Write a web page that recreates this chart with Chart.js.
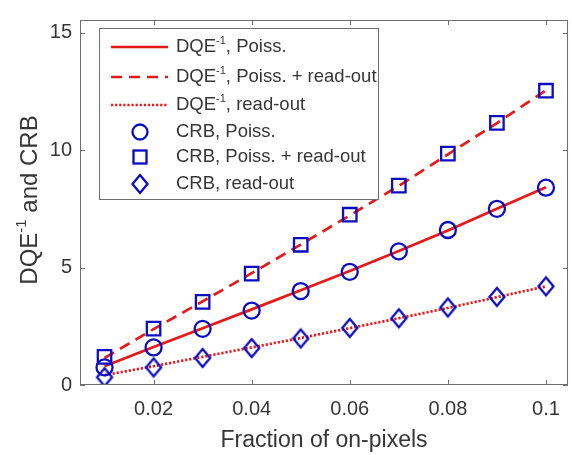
<!DOCTYPE html>
<html>
<head>
<meta charset="utf-8">
<script src="https://cdn.jsdelivr.net/npm/chart.js@4/dist/chart.umd.min.js"></script>
<style>
html, body { margin: 0; padding: 0; background: #fff; }
</style>
</head>
<body>
<canvas id="dqeChart" width="572" height="455"></canvas>
<script>
// values
const fraction = [0.01, 0.02, 0.03, 0.04, 0.05, 0.06, 0.07, 0.08, 0.09, 0.1];
const dqePoiss = [0.8, 1.62, 2.42, 3.22, 4.03, 4.85, 5.7, 6.58, 7.5, 8.42];
const dqeMixed = [1.15, 2.38, 3.56, 4.76, 5.98, 7.22, 8.48, 9.82, 11.15, 12.55];
const dqeRead = [0.42, 0.8, 1.2, 1.6, 2.0, 2.42, 2.84, 3.28, 3.74, 4.2];
const crbPoiss = [0.75, 1.6, 2.39, 3.17, 4.0, 4.82, 5.69, 6.6, 7.5, 8.4];
const crbMixed = [1.2, 2.4, 3.54, 4.74, 5.97, 7.25, 8.49, 9.85, 11.16, 12.53];
const crbRead = [0.33, 0.75, 1.15, 1.57, 1.98, 2.43, 2.84, 3.3, 3.75, 4.2];
const xTicks = [0.02, 0.04, 0.06, 0.08, 0.1];
const yTicks = [0, 5, 10, 15];

const lineRed = 'rgb(230,25,25)';
const markerBlue = 'rgb(12,12,192)';
const textColor = '#363636';
const axisColor = '#6e6e6e';
const fontFamily = '"Liberation Sans", Arial, sans-serif';

function pairs(values) {
    return fraction.map(function (f, i) { return { x: f, y: values[i] }; });
}

function diamondImage() {
    const c = document.createElement('canvas');
    c.width = 20;
    c.height = 24;
    const g = c.getContext('2d');
    g.strokeStyle = markerBlue;
    g.lineWidth = 2.3;
    g.beginPath();
    g.moveTo(10, 3);
    g.lineTo(17.5, 12);
    g.lineTo(10, 21);
    g.lineTo(2.5, 12);
    g.closePath();
    g.stroke();
    return c;
}
const diamond = diamondImage();

// text with a "-1" superscript after the first part
function drawSup(ctx, base, rest, x, y, size, align) {
    const sup = '-1';
    const supSize = Math.round(size * 0.62);
    ctx.font = size + 'px ' + fontFamily;
    const wBase = ctx.measureText(base).width;
    const wRest = ctx.measureText(rest).width;
    ctx.font = supSize + 'px ' + fontFamily;
    const wSup = ctx.measureText(sup).width;
    const total = wBase + wSup + wRest;
    const start = align === 'center' ? x - total / 2 : x;
    ctx.textAlign = 'left';
    ctx.textBaseline = 'middle';
    ctx.font = size + 'px ' + fontFamily;
    ctx.fillText(base, start, y);
    ctx.font = supSize + 'px ' + fontFamily;
    ctx.fillText(sup, start + wBase, y - size * 0.33);
    ctx.font = size + 'px ' + fontFamily;
    ctx.fillText(rest, start + wBase + wSup, y);
}

const legendRows = [
    { kind: 'line', dash: [], text: ', Poiss.' },
    { kind: 'line', dash: [11, 7], text: ', Poiss. + read-out' },
    { kind: 'line', dash: [2.2, 1.9], text: ', read-out' },
    { kind: 'circle', text: 'CRB, Poiss.' },
    { kind: 'square', text: 'CRB, Poiss. + read-out' },
    { kind: 'diamond', text: 'CRB, read-out' }
];
const legendY = [47, 77, 105, 132, 157, 184];
const legendFont = 18.5;

const frame = {
    id: 'frame',
    afterDraw(chart) {
        const ctx = chart.ctx;
        const a = chart.chartArea;
        const xs = chart.scales.x;
        const ys = chart.scales.y;
        ctx.save();

        // box with inward ticks, like matlab
        ctx.strokeStyle = axisColor;
        ctx.lineWidth = 1;
        ctx.strokeRect(a.left + 0.5, a.top + 0.5, a.right - a.left - 1, a.bottom - a.top - 1);
        ctx.beginPath();
        xTicks.forEach(function (v) {
            const px = Math.round(xs.getPixelForValue(v)) + 0.5;
            ctx.moveTo(px, a.bottom);
            ctx.lineTo(px, a.bottom - 5);
            ctx.moveTo(px, a.top);
            ctx.lineTo(px, a.top + 5);
        });
        yTicks.forEach(function (v) {
            const py = Math.round(ys.getPixelForValue(v)) + 0.5;
            ctx.moveTo(a.left, py);
            ctx.lineTo(a.left + 5, py);
            ctx.moveTo(a.right, py);
            ctx.lineTo(a.right - 5, py);
        });
        ctx.stroke();

        // legend
        ctx.fillStyle = '#ffffff';
        ctx.fillRect(99, 28, 279, 171);
        ctx.strokeRect(99.5, 28.5, 279, 171);
        legendRows.forEach(function (row, i) {
            const y = legendY[i];
            if (row.kind === 'line') {
                ctx.strokeStyle = lineRed;
                ctx.lineWidth = 2.7;
                ctx.setLineDash(row.dash);
                ctx.beginPath();
                ctx.moveTo(111, y);
                ctx.lineTo(168, y);
                ctx.stroke();
                ctx.setLineDash([]);
                ctx.fillStyle = textColor;
                drawSup(ctx, 'DQE', row.text, 176, y, legendFont, 'left');
            } else {
                ctx.strokeStyle = markerBlue;
                ctx.lineWidth = 2.3;
                if (row.kind === 'circle') {
                    ctx.beginPath();
                    ctx.arc(140, y, 7.5, 0, Math.PI * 2);
                    ctx.stroke();
                } else if (row.kind === 'square') {
                    ctx.strokeRect(133.5, y - 6.5, 13, 13);
                } else {
                    ctx.drawImage(diamond, 130, y - 12);
                }
                ctx.fillStyle = textColor;
                ctx.font = legendFont + 'px ' + fontFamily;
                ctx.textAlign = 'left';
                ctx.textBaseline = 'middle';
                ctx.fillText(row.text, 176, y);
            }
        });

        // y title with superscript
        ctx.translate(30, 200);
        ctx.rotate(-Math.PI / 2);
        ctx.fillStyle = textColor;
        drawSup(ctx, 'DQE', ' and CRB', 0, 0, 24, 'center');
        ctx.restore();
    }
};

function chart() {
    const ctx = document.getElementById('dqeChart').getContext('2d');
    const markerSet = function (values, style, radius) {
        return {
            type: 'scatter',
            data: pairs(values),
            showLine: false,
            pointStyle: style,
            pointRadius: radius,
            borderColor: markerBlue,
            backgroundColor: 'rgba(0,0,0,0)',
            borderWidth: 2.3,
            order: 0
        };
    };
    const lineSet = function (values, dash) {
        return {
            type: 'line',
            data: pairs(values),
            borderColor: lineRed,
            borderWidth: 2.7,
            borderDash: dash,
            pointRadius: 0,
            fill: false,
            tension: 0,
            order: 1
        };
    };
    return new Chart(ctx, {
        type: 'scatter',
        data: {
            datasets: [
                lineSet(dqePoiss, []),
                lineSet(dqeMixed, [11, 7]),
                lineSet(dqeRead, [2.2, 1.9]),
                markerSet(crbPoiss, 'circle', 8),
                markerSet(crbMixed, 'rect', 9.5),
                markerSet(crbRead, diamond, 9)
            ]
        },
        options: {
            responsive: false,
            animation: false,
            devicePixelRatio: 1,
            events: [],
            layout: { autoPadding: false, padding: { top: 8, right: 3, left: 0, bottom: 0 } },
            plugins: {
                legend: { display: false },
                tooltip: { enabled: false }
            },
            scales: {
                x: {
                    type: 'linear',
                    min: 0.005,
                    max: 0.1045,
                    grid: { display: false, drawTicks: false },
                    border: { display: false },
                    afterBuildTicks: function (s) { s.ticks = xTicks.map(function (v) { return { value: v }; }); },
                    afterFit: function (s) { s.height = 70; },
                    ticks: {
                        color: textColor,
                        font: { family: fontFamily, size: 20 },
                        padding: 12,
                        maxRotation: 0,
                        callback: function (v) { return String(Math.round(v * 100) / 100); }
                    },
                    title: {
                        display: true,
                        text: 'Fraction of on-pixels',
                        color: textColor,
                        font: { family: fontFamily, size: 23 },
                        padding: { top: 0, bottom: 1 }
                    }
                },
                y: {
                    type: 'linear',
                    min: 0,
                    max: 15.54,
                    grid: { display: false, drawTicks: false },
                    border: { display: false },
                    afterBuildTicks: function (s) { s.ticks = yTicks.map(function (v) { return { value: v }; }); },
                    afterFit: function (s) { s.width = 80; },
                    ticks: {
                        color: textColor,
                        font: { family: fontFamily, size: 20 },
                        padding: 8
                    }
                }
            }
        },
        plugins: [frame]
    });
}

chart();
</script>
</body>
</html>
